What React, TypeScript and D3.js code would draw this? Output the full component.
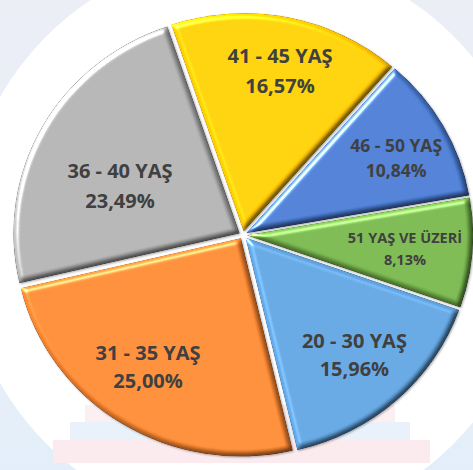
import React from 'react';
import * as d3 from 'd3';

// age groups and their shares (%)
const categories = ['20 - 30 YAŞ', '31 - 35 YAŞ', '36 - 40 YAŞ', '41 - 45 YAŞ', '46 - 50 YAŞ', '51 YAŞ VE ÜZERİ'];
const values = [15.96, 25.0, 23.49, 16.57, 10.84, 8.13];
const colors = ['#5B9BD5', '#F2822F', '#A8A8A8', '#FFC400', '#4574C8', '#70AD47'];

// label layout (per slice)
const labelSize = [20, 20, 20, 20, 17.5, 14.5];
const labelGap = [28, 28, 30, 30, 25, 22];
const labelRadius = [166.6, 166.5, 133, 174, 172.6, 162.6];
const labelShift = [0, 3, -6.7, 1.1, 2, 0.4];

const W = 473;
const H = 470;
const cx = 243;
const cy = 235;
const radius = 226;
const sy = 218 / 226; // the picture is a little squashed vertically
const explode = 4;
const startDeg = 109.3;

const locale = d3.formatLocale({ decimal: ',', thousands: '.', grouping: [3], currency: ['', ''] });
const fmt = locale.format('.2f');

const App = () => {
    const start = (startDeg * Math.PI) / 180;
    const pie = d3.pie<number>().sort(null).value((d) => d).startAngle(start).endAngle(start + 2 * Math.PI);
    const arcs = pie(values);
    const arc = d3.arc<d3.PieArcDatum<number>>().innerRadius(0).outerRadius(radius);

    return (
        <svg width={W} height={H} style={{ position: 'absolute', left: 0, top: 0 }}>
            <defs>
                <linearGradient id="bg" x1="0" y1="0" x2="0" y2="1">
                    <stop offset="0" stopColor="#ECEEF6" />
                    <stop offset="1" stopColor="#E4EEFA" />
                </linearGradient>
                <filter id="bevel" x="-10%" y="-10%" width="120%" height="120%" colorInterpolationFilters="sRGB">
                    <feGaussianBlur in="SourceAlpha" stdDeviation="2.5" result="blur" />
                    <feDiffuseLighting in="blur" surfaceScale="3.5" diffuseConstant="1" lightingColor="#ffffff" result="diff">
                        <feDistantLight azimuth="225" elevation="40" />
                    </feDiffuseLighting>
                    <feSpecularLighting in="blur" surfaceScale="3.5" specularConstant="0.9" specularExponent="25" lightingColor="#ffffff" result="spec">
                        <feDistantLight azimuth="225" elevation="40" />
                    </feSpecularLighting>
                    <feComposite in="spec" in2="SourceAlpha" operator="in" result="specIn" />
                    <feComposite in="SourceGraphic" in2="diff" operator="arithmetic" k1="0.8" k2="0.486" k3="0" k4="0" result="lit" />
                    <feComposite in="lit" in2="specIn" operator="arithmetic" k1="0" k2="1" k3="0.8" k4="0" result="final" />
                    <feGaussianBlur in="SourceAlpha" stdDeviation="1.2" result="sb" />
                    <feOffset in="sb" dx="1" dy="1.5" result="so" />
                    <feFlood floodColor="#000000" floodOpacity="0.35" />
                    <feComposite in2="so" operator="in" result="shadow" />
                    <feMerge>
                        <feMergeNode in="shadow" />
                        <feMergeNode in="final" />
                    </feMerge>
                </filter>
            </defs>

            {/* background */}
            <rect x={0} y={0} width={W} height={H} fill="url(#bg)" />
            <circle cx={250} cy={240} r={288} fill="#ffffff" />
            <rect x={85} y={405} width={310} height={18} fill="#FBEFF1" />
            <rect x={70} y={422} width={340} height={18} fill="#E9F2FB" />
            <rect x={53} y={440} width={377} height={23} fill="#FCEBEE" />

            <g transform={`translate(${cx},${cy}) scale(1,${sy})`}>
                {arcs.map((a, i) => {
                    const mid = (a.startAngle + a.endAngle) / 2;
                    const dx = explode * Math.sin(mid);
                    const dy = -explode * Math.cos(mid);
                    return (
                        <g key={categories[i]} transform={`translate(${dx},${dy})`}>
                            <path d={arc(a) || ''} fill={colors[i]} filter="url(#bevel)" />
                        </g>
                    );
                })}
            </g>
            <g transform={`translate(${cx},${cy})`}>
                {arcs.map((a, i) => {
                    const mid = (a.startAngle + a.endAngle) / 2 + (labelShift[i] * Math.PI) / 180;
                    const x = labelRadius[i] * Math.sin(mid);
                    const y = -labelRadius[i] * Math.cos(mid) * sy;
                    const fs = labelSize[i];
                    const b1 = y - labelGap[i] / 2 + fs * 0.36;
                    return (
                        <text
                            key={`l-${categories[i]}`}
                            textAnchor="middle"
                            fill="#404040"
                            fontWeight="bold"
                            fontSize={fs}
                            fontFamily="'Open Sans', Lato, sans-serif"
                        >
                            <tspan x={x} y={b1}>{categories[i]}</tspan>
                            <tspan x={x} y={b1 + labelGap[i]}>{`${fmt(values[i])}%`}</tspan>
                        </text>
                    );
                })}
            </g>
        </svg>
    );
};

export default App;
